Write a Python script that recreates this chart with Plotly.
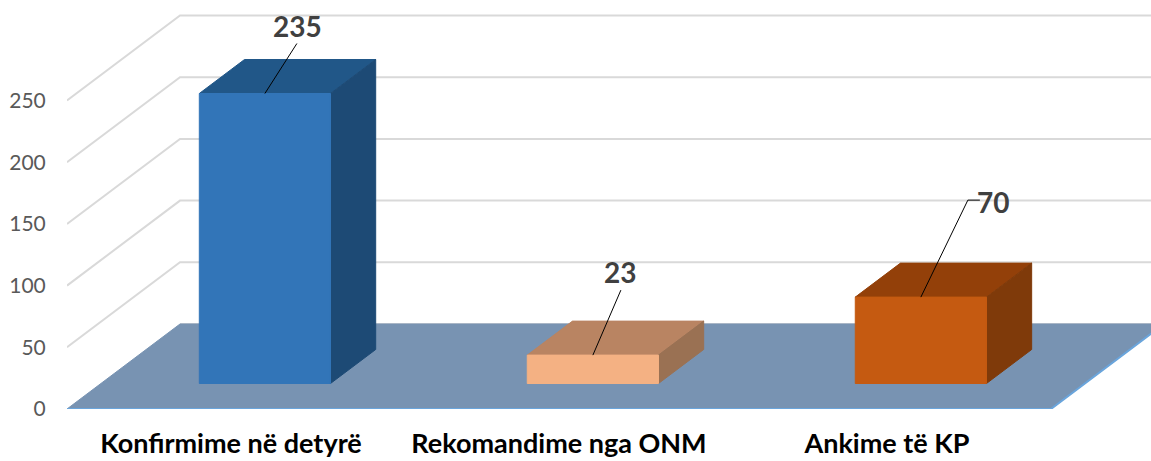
import plotly.graph_objects as go

categories = ["Konfirmime në detyrë", "Rekomandime nga ONM", "Ankime të KP"]
values = [235, 23, 70]
y_ticks = [0, 50, 100, 150, 200, 250]

FONT = "Lato"
PX_X, PX_Y = 328.0, 1.234            # pixels per category / per value unit
DEPTH_X, DEPTH_Y = 113 / PX_X, 85 / PX_Y   # full depth of the chart box in data units
NEAR, FAR = 0.3, 0.7                 # bar extent in depth
BAR_W = 0.4
X_MIN, X_MAX = -0.5, 2.805

front_colors = ["#3275B8", "#F4B183", "#C55A11"]
top_colors = ["#215788", "#B98462", "#934009"]
side_colors = ["#1D4A75", "#9A7153", "#7F3A0A"]

# leader line bends and label centres, as pixel offsets from the bar's top-front centre
leader_bends = [[(32, -50)], [(28, -65)], [(47, -97), (59, -97)]]
label_offsets = [(33, -68), (27, -83), (72, -95)]


def proj(cat, val, depth):
    return cat + DEPTH_X * depth, val + DEPTH_Y * depth


def poly(points, color, line_color=None):
    xs = [p[0] for p in points] + [points[0][0]]
    ys = [p[1] for p in points] + [points[0][1]]
    return go.Scatter(x=xs, y=ys, mode="lines", fill="toself", fillcolor=color,
                      line=dict(color=line_color or color, width=1),
                      hoverinfo="skip", showlegend=False, cliponaxis=False)


fig = go.Figure()

# grid on the side and back walls
for t in y_ticks[1:]:
    p0, p1 = proj(X_MIN, t, 0), proj(X_MIN, t, 1)
    fig.add_trace(go.Scatter(x=[p0[0], p1[0], X_MAX], y=[p0[1], p1[1], p1[1]], mode="lines",
                             line=dict(color="#D9D9D9", width=2), hoverinfo="skip", showlegend=False))
p1 = proj(X_MIN, 0, 1)
fig.add_trace(go.Scatter(x=[p1[0], X_MAX], y=[p1[1], p1[1]], mode="lines",
                         line=dict(color="#D9D9D9", width=2), hoverinfo="skip", showlegend=False))

# floor
n = len(categories)
fl = [proj(X_MIN, 0, 0), proj(X_MIN + n, 0, 0), proj(X_MIN + n, 0, 1), proj(X_MIN, 0, 1)]
fig.add_trace(poly(fl, "#7893B2", "#7893B2"))
fig.add_trace(go.Scatter(x=[fl[0][0], fl[1][0], fl[2][0]], y=[fl[0][1], fl[1][1], fl[2][1]], mode="lines",
                         line=dict(color="#6AA5DC", width=2), hoverinfo="skip", showlegend=False, cliponaxis=False))

# bars
for i, v in enumerate(values):
    l, r = i - BAR_W / 2, i + BAR_W / 2
    fig.add_trace(poly([proj(l, v, NEAR), proj(r, v, NEAR), proj(r, v, FAR), proj(l, v, FAR)], top_colors[i]))
    fig.add_trace(poly([proj(r, 0, NEAR), proj(r, 0, FAR), proj(r, v, FAR), proj(r, v, NEAR)], side_colors[i]))
    fig.add_trace(poly([proj(l, 0, NEAR), proj(r, 0, NEAR), proj(r, v, NEAR), proj(l, v, NEAR)], front_colors[i]))

# leader lines and data labels
for i, v in enumerate(values):
    ax, ay = proj(i, v, NEAR)
    xs, ys = [ax], [ay]
    for dx, dy in leader_bends[i]:
        xs.append(ax + dx / PX_X)
        ys.append(ay - dy / PX_Y)
    fig.add_trace(go.Scatter(x=xs, y=ys, mode="lines", line=dict(color="#000000", width=1),
                             hoverinfo="skip", showlegend=False))
    dx, dy = label_offsets[i]
    fig.add_annotation(x=ax + dx / PX_X, y=ay - dy / PX_Y, text=str(v), showarrow=False,
                       xanchor="center", yanchor="middle",
                       font=dict(family=FONT, size=28, color="#404040", weight="bold"))

fig.update_layout(
    width=1151, height=461,
    margin=dict(l=67, r=0, t=0, b=52),
    paper_bgcolor="#FFFFFF", plot_bgcolor="#FFFFFF",
    showlegend=False,
    xaxis=dict(range=[X_MIN, X_MAX], tickvals=list(range(n)), ticktext=categories, showgrid=False,
               automargin=False,
               zeroline=False, showline=False, ticks="outside", ticklen=11, tickcolor="rgba(0,0,0,0)",
               tickfont=dict(family=FONT, size=27, color="#000000", weight="bold")),
    yaxis=dict(range=[0, 409 / PX_Y], tickvals=y_ticks, showgrid=False, zeroline=False, showline=False,
               automargin=False,
               ticks="outside", ticklen=16, tickcolor="rgba(0,0,0,0)",
               tickfont=dict(family=FONT, size=21, color="#595959")),
)

fig.write_html("out.html", post_script="document.body.style.margin='0';",
               config={"displayModeBar": False})
